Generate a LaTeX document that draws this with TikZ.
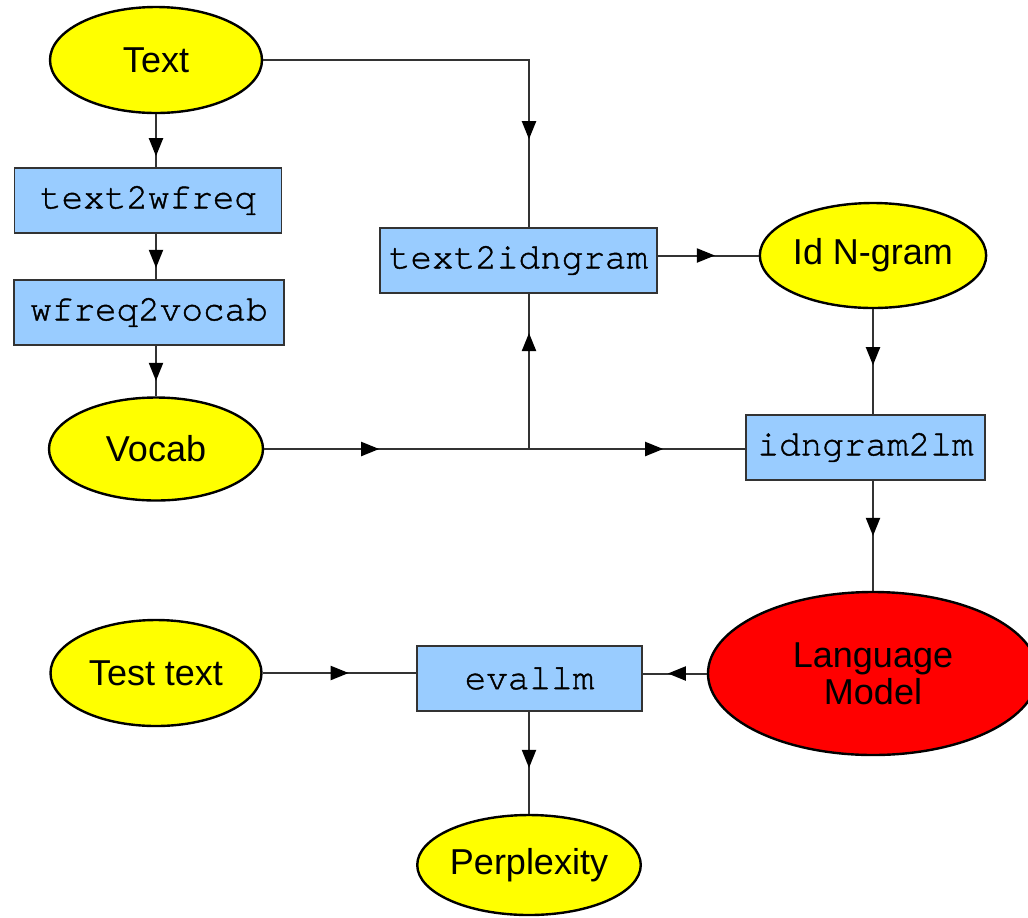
\documentclass[tikz,border=0pt]{standalone}
\usepackage{fontspec}
\setmainfont{Liberation Sans}
\newfontfamily\progfont[FakeBold=1.2]{texgyrecursor-regular.otf}
\usetikzlibrary{shapes.geometric,arrows.meta,decorations.markings}
\definecolor{ovalyellow}{HTML}{FFFF00}
\definecolor{boxblue}{HTML}{99CCFF}
\definecolor{linegray}{HTML}{333333}
\tikzset{
  oval/.style={ellipse,draw=black,line width=1.2pt,fill=ovalyellow,inner sep=0pt,
    font=\fontsize{18}{18.5}\selectfont},
  prog/.style={rectangle,draw=linegray,line width=0.9pt,fill=boxblue,inner sep=0pt,
    minimum height=32.5pt,font=\fontsize{18}{20}\progfont},
  conn/.style={draw=linegray,line width=1pt},
  tipat/.style={postaction={decorate,decoration={markings,
    mark=at position #1 with {\arrow[black]{Triangle[length=9pt,width=7pt]}}}}}
}
\begin{document}
\begin{tikzpicture}[x=0.5pt,y=-0.5pt]
\useasboundingbox (0,0) rectangle (1028,917);
\node[oval,minimum width=106pt,minimum height=53pt] (txt) at (156,60) {Text};
\node[prog,minimum width=133.5pt] (t2w) at (148,200.5) {text2wfreq};
\node[prog,minimum width=135pt] (w2v) at (149,312.5) {wfreq2vocab};
\node[oval,minimum width=107pt,minimum height=51.5pt] (voc) at (156,449) {Vocab};
\node[prog,minimum width=138.5pt] (t2i) at (518.5,260.5) {text2idngram};
\node[oval,minimum width=105pt,minimum height=52.5pt] (idn) at (873,255.5) {Id N-gram};
\node[prog,minimum width=119.5pt] (i2lm) at (865.5,447.5) {idngram2lm};
\node[oval,fill=red,minimum width=165pt,minimum height=81.5pt,align=center] (lm) at (873,673.5) {Language\\Model};
\node[prog,minimum width=112.5pt] (ev) at (529.5,678.5) {evallm};
\node[oval,minimum width=105.5pt,minimum height=53pt] (tst) at (156,673) {Test text};
\node[oval,minimum width=103.5pt,minimum height=50pt] (ppl) at (529,865) {Perplexity};
\coordinate (jn) at (529,449);

\draw[conn,tipat=21pt] (txt.south) -- (txt.south |- t2w.north);
\draw[conn,tipat=17pt] (t2w.south -| txt.south) -- (txt.south |- w2v.north);
\draw[conn,tipat=17.5pt] (w2v.south -| txt.south) -- (voc.north);
\draw[conn,tipat=172.5pt] (txt.east) -| (jn |- t2i.north);
\draw[conn,tipat=57.5pt,tipat=199.5pt] (voc.east) -- (voc.east -| i2lm.west);
\draw[conn,tipat=58pt] (jn) -- (jn |- t2i.south);
\draw[conn,tipat=28.5pt] (idn.west -| t2i.east) -- (idn.west);
\draw[conn,tipat=28pt] (idn.south) -- (idn.south |- i2lm.north);
\draw[conn,tipat=27.5pt] (i2lm.south -| lm.north) -- (lm.north);
\draw[conn,tipat=19.5pt] (lm.west) -- (lm.west -| ev.east);
\draw[conn,tipat=43pt] (tst.east) -- (tst.east -| ev.west);
\draw[conn,tipat=28pt] (ev.south -| ppl.north) -- (ppl.north);
\end{tikzpicture}
\end{document}
